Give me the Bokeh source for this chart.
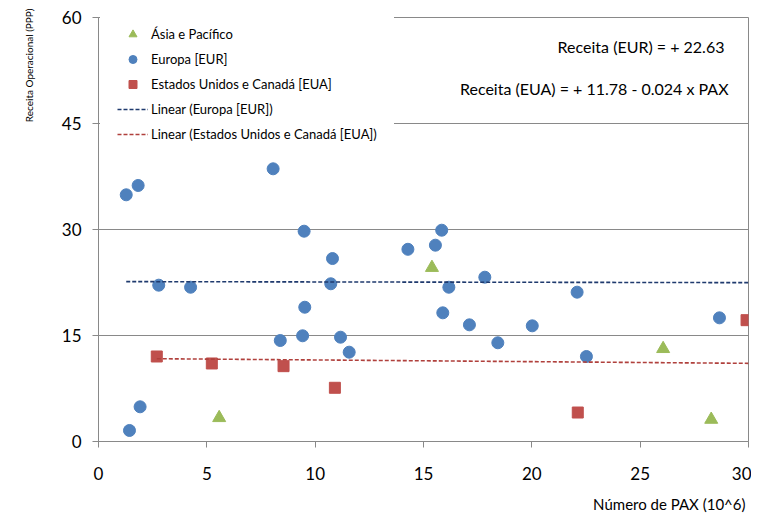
from bokeh.plotting import figure
from bokeh.models import Label, Title
from bokeh.embed import file_html
from bokeh.resources import INLINE

# ---- data ----
asia_x = [15.39, 5.57, 26.06, 28.28]
asia_y = [24.6, 3.35, 13.12, 3.11]

eur_x = [1.28, 1.83, 8.06, 9.49, 10.80, 14.28, 15.55, 15.84, 17.83, 2.78,
         4.25, 10.72, 16.17, 9.52, 8.39, 9.42, 11.17, 11.57, 15.89, 17.12,
         20.02, 18.43, 22.09, 22.52, 28.66, 1.92, 1.43]
eur_y = [34.91, 36.23, 38.59, 29.76, 25.89, 27.2, 27.78, 29.9, 23.25, 22.12,
         21.83, 22.32, 21.83, 19.0, 14.29, 14.96, 14.76, 12.64, 18.21, 16.51,
         16.37, 13.97, 21.13, 12.03, 17.5, 4.91, 1.56]

eua_x = [2.69, 5.23, 8.54, 10.91, 22.12, 29.91]
eua_y = [12.03, 11.04, 10.66, 7.6, 4.1, 17.17]

# trend lines: intercept, slope
eur_trend = [22.63, -0.005]
eua_trend = [11.78, -0.024]

x_ticks = [0, 5, 10, 15, 20, 25, 30]
y_ticks = [0, 15, 30, 45, 60]

legend_labels = ["Ásia e Pacífico", "Europa [EUR]", "Estados Unidos e Canadá [EUA]",
                 "Linear (Europa [EUR])", "Linear (Estados Unidos e Canadá [EUA])"]
equations = ["Receita (EUR) = + 22.63", "Receita (EUA) = + 11.78 - 0.024 x PAX"]
x_title = "Número de PAX (10^6)"
y_title = "Receita Operacional (PPP)"

FONT = "Lato"
GRAY = "#898989"

p = figure(width=751, height=527, x_range=(x_ticks[0], x_ticks[-1]),
           y_range=(y_ticks[0], y_ticks[-1]),
           output_backend="svg", toolbar_location=None,
           min_border_left=98, min_border_right=3, min_border_top=17,
           min_border_bottom=86)

p.background_fill_color = "white"
p.border_fill_color = "white"
p.outline_line_color = GRAY
p.outline_line_width = 1

p.xgrid.visible = False
p.ygrid.grid_line_color = GRAY
p.ygrid.grid_line_width = 1

p.xaxis.ticker = x_ticks
p.yaxis.ticker = y_ticks
for ax in (p.xaxis, p.yaxis):
    ax.axis_line_color = GRAY
    ax.major_tick_line_color = GRAY
    ax.major_tick_out = 6
    ax.major_tick_in = 0
    ax.minor_tick_out = 0
    ax.minor_tick_in = 0
    ax.major_label_text_font = FONT
    ax.major_label_text_font_size = "17px"
    ax.major_label_text_color = "black"
p.yaxis.major_label_standoff = 11
p.xaxis.major_label_standoff = 19

# axis titles (aligned to the right/top end, as in the reference)
p.add_layout(Title(text=x_title, align="right", offset=3, vertical_align="bottom",
                   standoff=21, text_font=FONT, text_font_size="15px",
                   text_font_style="normal", text_color="black"), "below")
p.add_layout(Title(text=y_title, align="right", offset=-9, vertical_align="top",
                   standoff=44, text_font=FONT, text_font_size="10px",
                   text_font_style="normal", text_color="black"), "left")

# points
p.scatter(asia_x, asia_y, marker="triangle", size=13, color="#9BBB59",
          legend_label=legend_labels[0])
p.scatter(eur_x, eur_y, marker="circle", size=12, color="#4F81BD",
          legend_label=legend_labels[1])
p.scatter(eua_x, eua_y, marker="square", size=11, color="#C0504D",
          legend_label=legend_labels[2])

# trend lines
ex = [min(eur_x), x_ticks[-1]]
ey = [eur_trend[0] + eur_trend[1] * v for v in ex]
ux = [min(eua_x), x_ticks[-1]]
uy = [eua_trend[0] + eua_trend[1] * v for v in ux]
p.line(ex, ey, line_color="#1F3A6E", line_width=1.6, line_dash="4 2",
       legend_label=legend_labels[3])
p.line(ux, uy, line_color="#B0403C", line_width=1.6, line_dash="4 2",
       legend_label=legend_labels[4])

lg = p.legend[0]
lg.location = (2, 280)
lg.padding = 17
lg.margin = 0
lg.spacing = 5
lg.glyph_height = 20
lg.label_height = 20
lg.glyph_width = 31
lg.label_standoff = 3
lg.border_line_alpha = 0
lg.background_fill_color = "white"
lg.background_fill_alpha = 1.0
lg.label_text_font = FONT
lg.label_text_font_size = "13px"
lg.label_text_color = "black"

# equations
for txt, xx, yy in zip(equations, [28.89, 29.08], [55.9, 50.0]):
    p.add_layout(Label(x=xx, y=yy, text=txt, text_align="right",
                       text_baseline="middle", text_font=FONT,
                       text_font_size="16px", text_color="black"))

open("out.html", "w").write(file_html(p, INLINE))
